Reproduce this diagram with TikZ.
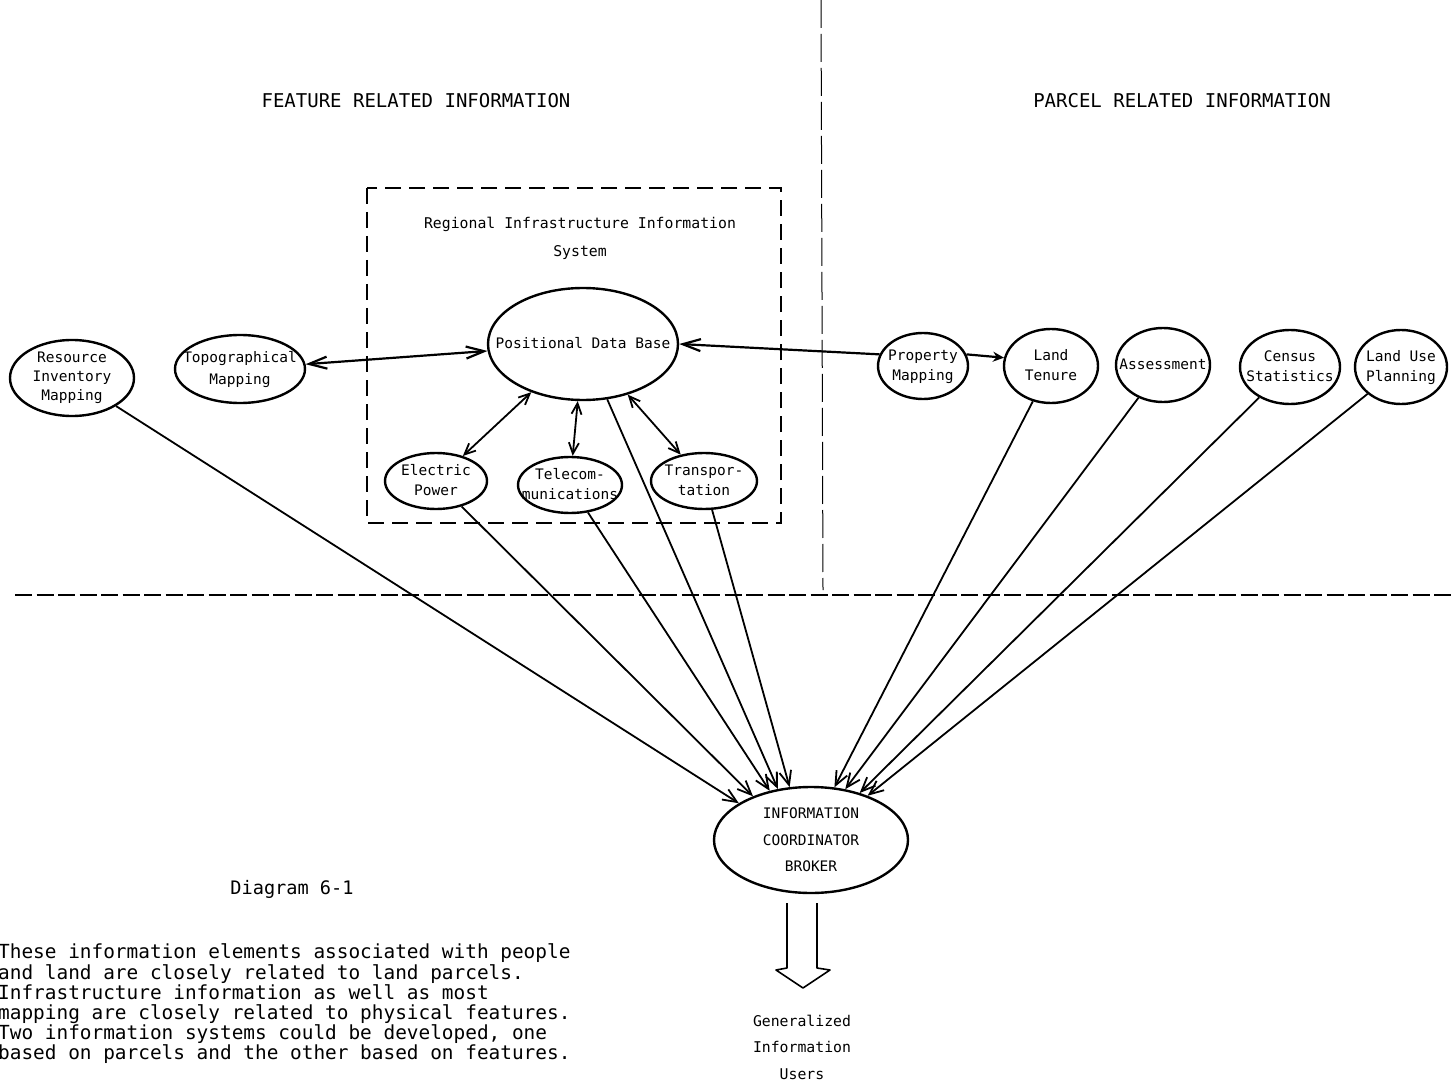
\documentclass[tikz,border=0pt]{standalone}
\usepackage{fontspec}
\setmainfont{DejaVu Sans Mono}
\usetikzlibrary{shapes.geometric,arrows.meta}
\newcommand\ctext[2][1]{\smash{\makebox[0pt]{\raisebox{-.25em}{\def\arraystretch{#1}\begin{tabular}{@{}c@{}}#2\end{tabular}}}}}
\tikzset{
  ell/.style 2 args={ellipse, draw, line width=2.4pt, minimum width=#1, minimum height=#2, inner sep=0pt, font=\fontsize{14.5}{20}\selectfont},
  conn/.style={line width=1.8pt},
  barb/.tip={Straight Barb[length=11pt,width=10pt]},
  longbarb/.tip={Straight Barb[length=18pt,width=12pt]},
  dbl/.style={conn, barb-barb},
  tobroker/.style={conn, -{Straight Barb[length=14pt,width=12pt]}},
  head/.style={font=\fontsize{19}{22}\selectfont, inner sep=0pt},
  plain/.style={font=\fontsize{14.5}{20}\selectfont, inner sep=0pt, align=center},
  boxdash/.style={line width=1.6pt, dash pattern=on 16pt off 8pt},
  divider/.style={line width=1pt, dash pattern=on 28pt off 6pt},
  hdash/.style={line width=2pt, dash pattern=on 17pt off 4.5pt},
}
\begin{document}
\begin{tikzpicture}[x=1pt,y=-1pt]
\useasboundingbox[fill=white] (0,0) rectangle (1451,1083);

% dividers
\coordinate (vtop) at (821,0);
\coordinate (vbot) at (823,590);
\draw[divider] (vtop) -- (vbot);
\coordinate (hl) at (15,595);
\coordinate (hr) at (1451,595);
\draw[hdash] (hl) -- (hr);

% headers
\node[head] (hfeat) at (416,101) {FEATURE RELATED INFORMATION};
\node[head] (hparc) at (1182,101) {PARCEL RELATED INFORMATION};

% regional box
\coordinate (boxnw) at (367,188);
\coordinate (boxse) at (781,523);
\draw[boxdash] (boxnw) rectangle (boxse);
\node[plain, font=\fontsize{14.8}{28}\selectfont] (rtitle) at (580,238) {Regional Infrastructure Information\\System};

% ellipses
\node[ell={190pt}{112pt}] (pdb) at (583,344) {\ctext{Positional Data Base}};
\node[ell={102pt}{56pt}] (ep) at (436,481) {\ctext{Electric\\Power}};
\node[ell={104pt}{56pt}] (tel) at (570,485) {\ctext{Telecom-\\munications}};
\node[ell={106pt}{56pt}] (trans) at (704,481) {\ctext{Transpor-\\tation}};
\node[ell={124pt}{76pt}] (res) at (72,378) {\ctext[0.95]{Resource\\Inventory\\Mapping}};
\node[ell={130pt}{68pt}] (topo) at (240,369) {\ctext[1.1]{Topographical\\Mapping}};
\node[ell={90pt}{66pt}] (prop) at (923,366) {\ctext{Property\\Mapping}};
\node[ell={94pt}{74pt}] (ten) at (1051,366) {\ctext{Land\\Tenure}};
\node[ell={94pt}{74pt}] (ass) at (1163,365) {\ctext{Assessment}};
\node[ell={100pt}{74pt}] (cen) at (1290,367) {\ctext{Census\\Statistics}};
\node[ell={92pt}{74pt}] (lu) at (1401,367) {\ctext{Land Use\\Planning}};
\node[ell={194pt}{106pt}] (brk) at (811,840) {\ctext[1.325]{INFORMATION\\COORDINATOR\\BROKER}};

% connectors around PDB
\draw[conn, line width=2.2pt, longbarb-longbarb] (topo) -- (pdb);
\draw[conn, line width=2.2pt, -longbarb] (prop.165) -- (pdb.east);
\draw[conn, line width=2.2pt, -{Stealth[length=11pt,width=10pt]}] (prop.15) -- (ten.170);
\draw[dbl] (pdb) -- (ep);
\draw[dbl] (pdb) -- (tel);
\draw[dbl] (pdb) -- (trans);

% connectors to broker
\draw[tobroker] (res) -- (brk.153);
\draw[tobroker] (ep) -- (brk.143);
\draw[tobroker] (tel) -- (brk.130);
\draw[tobroker] (pdb) -- (brk.123);
\draw[tobroker] (trans) -- (brk.112);
\draw[tobroker] (ten) -- (brk.66);
\draw[tobroker] (ass) -- (brk.56);
\draw[tobroker] (cen) -- (brk.44);
\draw[tobroker] (lu) -- (brk.38);

% hollow output arrow
\draw[line width=1.6pt, line join=round] (787,903) -- (787,968) -- (776,970) -- (803,988) -- (830,970) -- (817,968) -- (817,903);
\node[plain, font=\fontsize{14.8}{26.5}\selectfont] (users) at (802,1047) {Generalized\\Information\\Users};

% caption and text
\node[head, font=\fontsize{18.6}{22}\selectfont] (cap) at (292,889) {Diagram 6-1};
\node[head, anchor=west, align=left, font=\fontsize{19.4}{20.2}\selectfont] (body) at (-2,1004) {These information elements associated with people\\and land are closely related to land parcels.\\Infrastructure information as well as most\\mapping are closely related to physical features.\\Two information systems could be developed, one\\based on parcels and the other based on features.};
\end{tikzpicture}
\end{document}
